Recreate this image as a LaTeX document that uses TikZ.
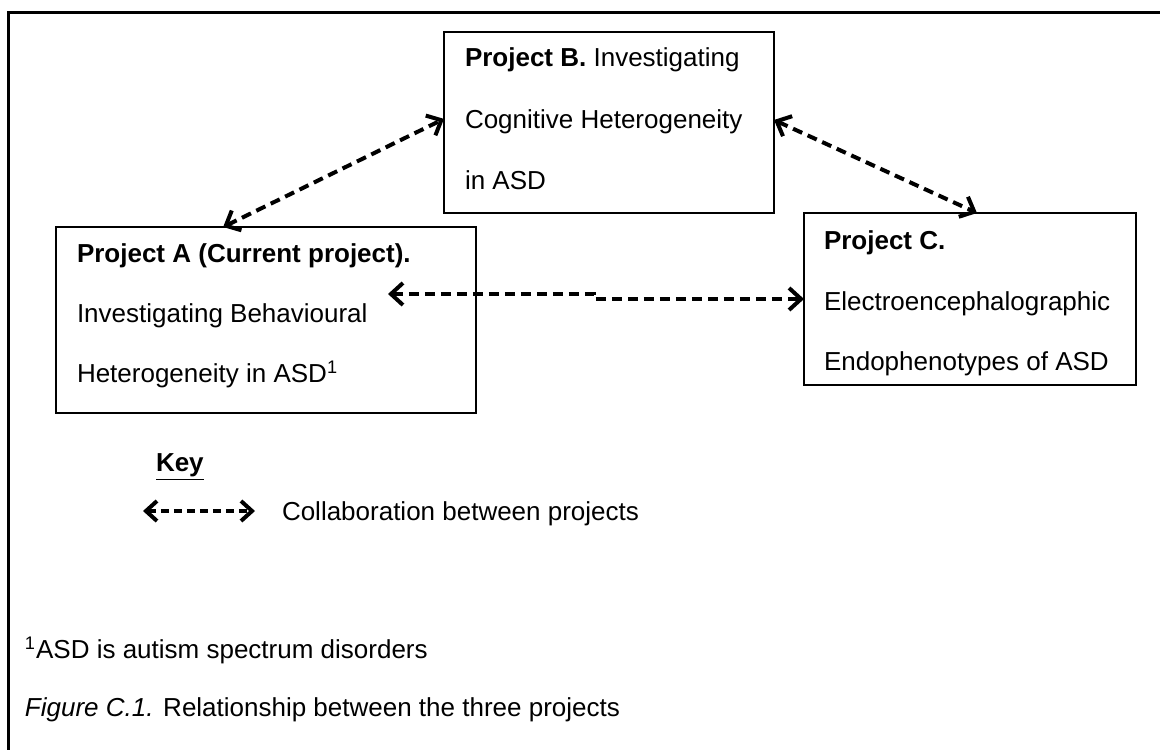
\documentclass[tikz,border=0pt]{standalone}
\usepackage{fontspec}
\setmainfont{Liberation Sans}
\usetikzlibrary{arrows.meta,calc}
\begin{document}
\begin{tikzpicture}[x=0.5pt,y=-0.5pt,
  every node/.style={font=\fontsize{13}{15}\selectfont, inner sep=0pt, outer sep=0pt},
  projbox/.style={draw, line width=0.6pt, rectangle},
  txt/.style={anchor=base west},
  collab/.style={line width=2pt, dash pattern=on 5pt off 3pt,
    {Straight Barb[length=6pt,width=11pt,line width=2pt]}-{Straight Barb[length=6pt,width=11pt,line width=2pt]}},
  keyarr/.style={line width=2pt, dash pattern=on 4pt off 2.5pt,
    {Straight Barb[length=5.5pt,width=10pt,line width=2pt]}-{Straight Barb[length=5.5pt,width=10pt,line width=2pt]}}]
\useasboundingbox (0,0) rectangle (1160,749);
\fill[white] (0,0) rectangle (1160,749);
% partial frame
\draw[line width=1.5pt] (8,760) -- (8,13) -- (1170,13);
% boxes
\node[projbox, minimum width=210pt, minimum height=93pt] (A) at (266,320) {};
\node[projbox, minimum width=165pt, minimum height=90.5pt] (B) at (609,122.5) {};
\node[projbox, minimum width=166pt, minimum height=86pt] (C) at (970,299) {};
% box texts
\node[txt] (a1) at (77,262) {\textbf{Project A (Current project).}};
\node[txt] (a2) at (77,322) {Investigating Behavioural};
\node[txt] (a3) at (77,382) {Heterogeneity in ASD\textsuperscript{1}};
\node[txt] (b1) at (465,67) {\textbf{Project B.} Investigating};
\node[txt] (b2) at (465,128) {Cognitive Heterogeneity};
\node[txt] (b3) at (465,189) {in ASD};
\node[txt] (c1) at (824,249) {\textbf{Project C.}};
\node[txt] (c2) at (824,310) {Electroencephalographic};
\node[txt] (c3) at (824,370) {Endophenotypes of ASD};
% connectors
\draw[collab] ($(A.north west)!0.398!(A.north east)$) -- ($(B.north west)!0.48!(B.south west)$);
\draw[collab] ($(B.north east)!0.486!(B.south east)$) -- ($(C.north west)!0.521!(C.north east)$);
\coordinate (acL) at ($(A.north east)+(-88,67)$);
\coordinate (acM) at ($(C.west)+(-210,0)$);
\draw[collab] (acL) -- (acL -| acM) -- (acM) -- (C.west);
% key
\node[txt] (key) at (156,471) {\underline{\textbf{Key}}};
\coordinate (k1) at (143,511);
\coordinate (k2) at (255,511);
\draw[keyarr] (k1) -- (k2);
\node[txt] (keytxt) at (282,520) {Collaboration between projects};
% footnote and caption
\node[txt] (fn) at (25,658) {\textsuperscript{1}ASD is autism spectrum disorders};
\node[txt] (cap) at (25,716) {\textit{Figure C.1.} Relationship between the three projects};
\end{tikzpicture}
\end{document}
